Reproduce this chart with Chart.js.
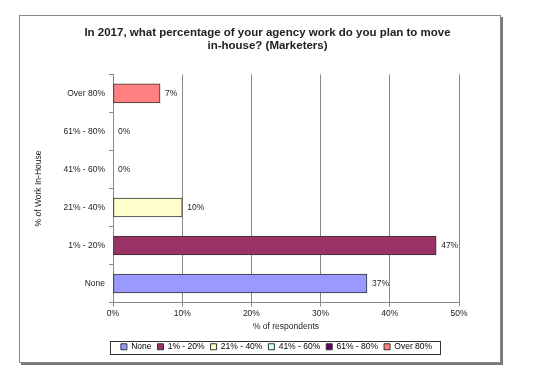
<!DOCTYPE html>
<html>
<head>
<meta charset="utf-8">
<script src="https://cdn.jsdelivr.net/npm/chart.js@4/dist/chart.umd.min.js"></script>
<style>
    html, body { margin: 0; padding: 0; background: #fff; }
    #wrap { position: relative; width: 555px; height: 375px; }
    #frame {
        position: absolute; left: 19px; top: 15px; width: 480px; height: 346px;
        border: 1px solid #8a8a8a; box-shadow: 2px 2px 0 #777;
    }
    canvas { position: absolute; left: 0; top: 0; }
</style>
</head>
<body>
<div id="wrap">
    <div id="frame"></div>
    <canvas id="chartAgencia" width="555" height="375"></canvas>
</div>
<script>
// datos (de abajo hacia arriba, como en la leyenda)
const categorias = ['None', '1% - 20%', '21% - 40%', '41% - 60%', '61% - 80%', 'Over 80%'];
const valores = [36.7, 46.7, 10, 0, 0, 6.8];
const etiquetas = ['37%', '47%', '10%', '0%', '0%', '7%'];
const colores = ['#9999FF', '#993366', '#FFFFCC', '#CCFFFF', '#660066', '#FF8080'];
const ticksX = [0, 10, 20, 30, 40, 50];

const fuente = "Arial, 'Liberation Sans', sans-serif";

// etiquetas de valor al final de cada barra
const etiquetasValor = {
    id: 'etiquetasValor',
    afterDatasetsDraw(chart) {
        const ctx = chart.ctx;
        const meta = chart.getDatasetMeta(0);
        ctx.save();
        ctx.font = '8.5px ' + fuente;
        ctx.fillStyle = '#222';
        ctx.textBaseline = 'middle';
        ctx.textAlign = 'left';
        meta.data.forEach((bar, i) => {
            ctx.fillText(etiquetas[i], bar.x + 5, bar.y);
        });
        ctx.restore();
    }
};

// mover titulo y leyenda a su sitio (como en el original de Excel)
const ajusteCajas = {
    id: 'ajusteCajas',
    afterLayout(chart) {
        const t = chart.titleBlock;
        t.left += 23; t.right += 23;
        const l = chart.legend;
        l.left += 32; l.right += 32;
        l.top += 5; l.bottom += 5;
    }
};

// recuadro alrededor de la leyenda
const marcoLeyenda = {
    id: 'marcoLeyenda',
    afterDraw(chart) {
        const boxes = chart.legend.legendHitBoxes;
        if (!boxes || !boxes.length) return;
        const x0 = Math.min(...boxes.map(b => b.left)) - 11;
        const x1 = Math.max(...boxes.map(b => b.left + b.width)) + 8;
        const y0 = Math.min(...boxes.map(b => b.top)) - 2;
        const y1 = Math.max(...boxes.map(b => b.top + b.height)) + 2;
        const ctx = chart.ctx;
        ctx.save();
        ctx.strokeStyle = '#333';
        ctx.lineWidth = 1;
        ctx.strokeRect(Math.round(x0) + 0.5, Math.round(y0) + 0.5, Math.round(x1 - x0), Math.round(y1 - y0));
        ctx.restore();
    }
};

new Chart(document.getElementById('chartAgencia'), {
    type: 'bar',
    data: {
        labels: categorias,
        datasets: [{
            data: valores,
            backgroundColor: colores,
            borderColor: '#333',
            borderWidth: 1,
            borderSkipped: false,
            barThickness: 19
        }]
    },
    options: {
        indexAxis: 'y',
        responsive: false,
        animation: false,
        layout: { padding: { left: 30, right: 96, top: 0, bottom: 19 } },
        plugins: {
            title: {
                display: true,
                text: ['In 2017, what percentage of your agency work do you plan to move', 'in-house? (Marketers)'],
                color: '#222',
                font: { family: fuente, size: 11.5, weight: 'bold', lineHeight: 1.15 },
                padding: { top: 26, bottom: 22 }
            },
            legend: {
                position: 'bottom',
                labels: {
                    color: '#222',
                    font: { family: fuente, size: 8.5 },
                    boxWidth: 6,
                    boxHeight: 6,
                    padding: 6,
                    generateLabels: () => categorias.map((c, i) => ({
                        text: c,
                        fillStyle: colores[i],
                        strokeStyle: '#333',
                        lineWidth: 1,
                        index: i
                    }))
                }
            },
            tooltip: { enabled: false }
        },
        scales: {
            x: {
                min: 0,
                max: 50,
                afterBuildTicks: axis => { axis.ticks = ticksX.map(v => ({ value: v })); },
                ticks: {
                    callback: v => v + '%',
                    color: '#222',
                    font: { family: fuente, size: 8.5 },
                    padding: 2
                },
                grid: { color: '#888', tickLength: 4, tickColor: '#888' },
                border: { color: '#888' },
                title: {
                    display: true,
                    text: '% of respondents',
                    color: '#222',
                    font: { family: fuente, size: 8.5 },
                    padding: { top: 0, bottom: 0 }
                },
                afterFit: axis => { axis.height = 29; }
            },
            y: {
                reverse: true,
                ticks: {
                    color: '#222',
                    font: { family: fuente, size: 8.5 },
                    padding: 4
                },
                grid: { drawOnChartArea: false, tickLength: 4, color: '#888' },
                border: { color: '#888' },
                title: {
                    display: true,
                    text: '% of Work In-House',
                    color: '#222',
                    font: { family: fuente, size: 8.5 },
                    padding: 4
                },
                afterFit: axis => { axis.width = 83; }
            }
        }
    },
    plugins: [ajusteCajas, etiquetasValor, marcoLeyenda]
});
</script>
</body>
</html>
